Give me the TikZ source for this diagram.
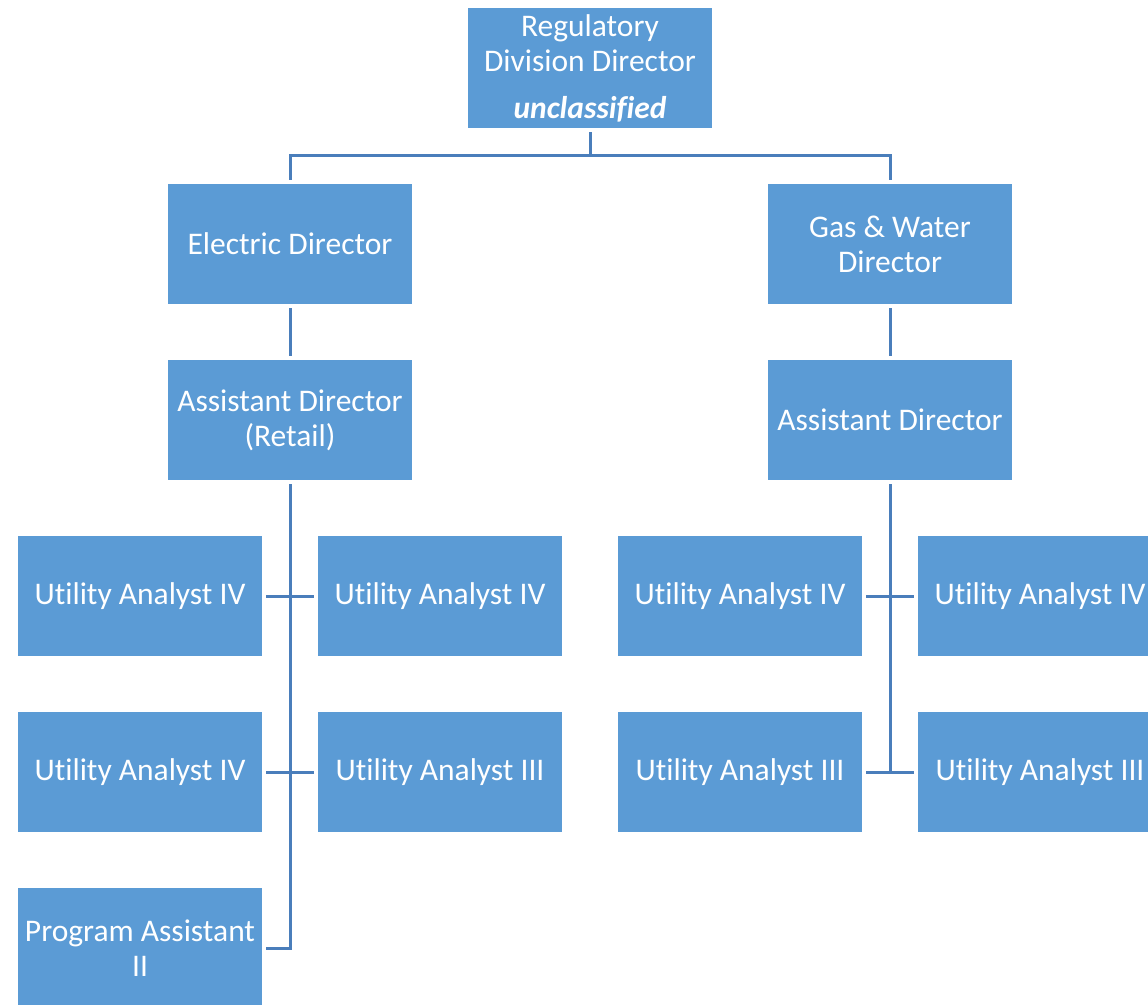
\documentclass[tikz,border=0pt]{standalone}
\usepackage{fontspec}
\setmainfont{Carlito}[Ligatures=NoCommon]
\definecolor{boxblue}{HTML}{5B9BD5}
\definecolor{lineblue}{HTML}{4A7EBB}
\begin{document}
\begin{tikzpicture}[x=1pt,y=-1pt,
 box/.style={fill=boxblue, text=white, minimum width=244pt, minimum height=120pt, inner sep=0pt, align=center, font=\fontsize{31.5}{35}\selectfont},
 conn/.style={draw=lineblue, line width=3pt, shorten <=4pt, shorten >=4pt}]
\useasboundingbox (0,0) rectangle (1148,1004);
\clip (0,0) rectangle (1148,1004);
\fill[white] (0,0) rectangle (1148,1004);
\node[box] (top) at (590,68) {Regulatory\\Division Director\\[12pt]\textbf{\textit{unclassified}}};
\node[box] (ed) at (290,244) {Electric Director};
\node[box] (gw) at (890,244) {Gas \& Water\\Director};
\node[box] (al) at (290,420) {Assistant Director\\(Retail)};
\node[box] (ar) at (890,420) {Assistant Director};
\node[box] (l1a) at (140,596) {Utility Analyst IV};
\node[box] (l1b) at (440,596) {Utility Analyst IV};
\node[box] (r1a) at (740,596) {Utility Analyst IV};
\node[box] (r1b) at (1040,596) {Utility Analyst IV};
\node[box] (l2a) at (140,772) {Utility Analyst IV};
\node[box] (l2b) at (440,772) {Utility Analyst III};
\node[box] (r2a) at (740,772) {Utility Analyst III};
\node[box] (r2b) at (1040,772) {Utility Analyst III};
\node[box] (pa) at (140,948) {Program Assistant\\II};
\draw[conn] (top.south) -- ++(0,27) -| (ed.north);
\draw[conn] (top.south) -- ++(0,27) -| (gw.north);
\draw[conn] (ed) -- (al);
\draw[conn] (gw) -- (ar);
\draw[conn] (al.south) |- (pa.east);
\draw[conn] (l1a.east) -- (l1b.west);
\draw[conn] (l2a.east) -- (l2b.west);
\draw[conn, shorten >=0pt] (ar.south) -- (ar.south |- r2a.east);
\draw[conn] (r1a.east) -- (r1b.west);
\draw[conn] (r2a.east) -- (r2b.west);
\end{tikzpicture}
\end{document}
